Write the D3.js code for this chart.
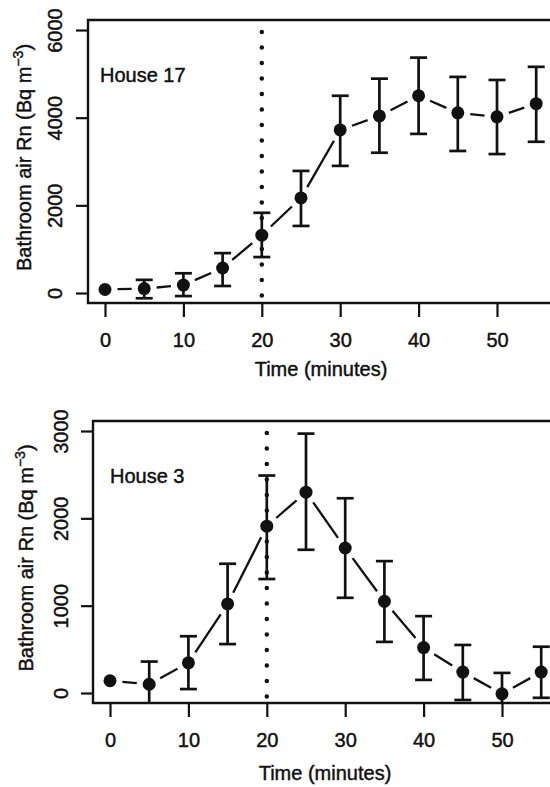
<!DOCTYPE html>
<html>
<head>
<meta charset="utf-8">
<script src="https://cdn.jsdelivr.net/npm/d3@7"></script>
<style>
  body { margin: 0; background: #fff; }
  svg text { font-family: "Liberation Sans", Arial, Helvetica, sans-serif; fill: #111; stroke: #111; stroke-width: 0.45px; }
</style>
</head>
<body>
<div id="chart"></div>
<script>
// data (Bq m-3), mean with lower/upper error bar ends
var times = [0, 5, 10, 15, 20, 25, 30, 35, 40, 45, 50, 55];
var house17Mean = [80, 100, 180, 570, 1320, 2170, 3720, 4040, 4500, 4110, 4020, 4320];
var house17Lo   = [80, -120, -70, 160, 820, 1530, 2900, 3200, 3630, 3240, 3170, 3450];
var house17Hi   = [80, 300, 450, 910, 1830, 2785, 4500, 4890, 5370, 4930, 4860, 5160];
var house3Mean  = [140, 100, 345, 1020, 1910, 2300, 1660, 1050, 520, 240, -10, 240];
var house3Lo    = [140, -130, 45, 560, 1305, 1640, 1090, 585, 150, -80, -250, -55];
var house3Hi    = [140, 360, 650, 1480, 2490, 2970, 2230, 1510, 880, 550, 230, 530];
var xTicks = [0, 10, 20, 30, 40, 50];
var yTicks17 = [0, 2000, 4000, 6000];
var yTicks3 = [0, 1000, 2000, 3000];
var showerEnd = 20;

var svg = d3.select('#chart').append('svg')
    .attr('width', 550).attr('height', 787);

function drawPanel(p) {
    var x = d3.scaleLinear().domain([0, 50]).range([p.x0, p.x50]);
    var y = d3.scaleLinear().domain([0, p.yMax]).range([p.y0, p.yTop]);
    var g = svg.append('g');

    // clip to the plot box
    g.append('clipPath').attr('id', p.id)
        .append('rect')
        .attr('x', p.left).attr('y', p.top)
        .attr('width', 700).attr('height', p.bottom - p.top);

    // x axis
    var xAxis = g.append('g')
        .attr('transform', 'translate(0,' + p.bottom + ')')
        .call(d3.axisBottom(x).tickValues(xTicks).tickFormat(d3.format('d')).tickSize(14).tickPadding(16));
    xAxis.select('.domain').remove();
    xAxis.selectAll('line').attr('stroke', '#111').attr('stroke-width', 2.2);
    xAxis.selectAll('text').attr('font-size', 20).attr('fill', '#111');

    // y axis, labels parallel to axis
    var yAxis = g.append('g')
        .attr('transform', 'translate(' + p.left + ',0)')
        .call(d3.axisLeft(y).tickValues(p.yTicks).tickFormat(d3.format('d')).tickSize(12));
    yAxis.select('.domain').remove();
    yAxis.selectAll('line').attr('stroke', '#111').attr('stroke-width', 2.2);
    yAxis.selectAll('text')
        .attr('x', null).attr('dy', null)
        .attr('font-size', 20).attr('fill', '#111')
        .attr('text-anchor', 'middle')
        .attr('transform', 'translate(' + (p.labX - p.left) + ',0) rotate(-90)');

    // box (right side runs off the page)
    g.append('path')
        .attr('d', 'M' + (p.left + 700) + ',' + p.top + 'H' + p.left + 'V' + p.bottom + 'H' + (p.left + 700))
        .attr('fill', 'none').attr('stroke', '#111').attr('stroke-width', 2.4);

    // axis titles
    g.append('text')
        .attr('x', p.xTitleX).attr('y', p.xTitleY)
        .attr('text-anchor', 'middle').attr('font-size', 20)
        .text('Time (minutes)');

    var yt = g.append('text')
        .attr('transform', 'translate(' + p.yTitleX + ',' + ((p.top + p.bottom) / 2 - 4) + ') rotate(-90)')
        .attr('text-anchor', 'middle').attr('font-size', 20);
    yt.append('tspan').text('Bathroom air Rn (Bq m');
    yt.append('tspan').attr('font-size', 14).attr('dy', -8).text('\u22123');
    yt.append('tspan').attr('dy', 8).text(')');

    // house label
    g.append('text')
        .attr('x', p.labelX).attr('y', p.labelY)
        .attr('font-size', 20)
        .text(p.label);

    var plot = g.append('g').attr('clip-path', 'url(#' + p.id + ')');

    // dotted vertical at end of shower
    plot.append('line')
        .attr('x1', x(showerEnd)).attr('x2', x(showerEnd))
        .attr('y1', p.top + 12).attr('y2', p.bottom)
        .attr('stroke', '#111').attr('stroke-width', 4.5)
        .attr('stroke-linecap', 'round')
        .attr('stroke-dasharray', '0,15.5');

    var pts = times.map(function(t, i) {
        return {t: t, m: p.mean[i], lo: p.lo[i], hi: p.hi[i]};
    });

    // connecting segments with gaps round the points
    var gap = 12.5;
    var segs = [];
    for (var i = 0; i < pts.length - 1; i++) {
        var ax = x(pts[i].t), ay = y(pts[i].m);
        var bx = x(pts[i + 1].t), by = y(pts[i + 1].m);
        var len = Math.hypot(bx - ax, by - ay);
        if (len <= gap * 2) continue;
        var ux = (bx - ax) / len, uy = (by - ay) / len;
        segs.push([ax + ux * gap, ay + uy * gap, bx - ux * gap, by - uy * gap]);
    }
    plot.selectAll('.seg').data(segs).enter().append('line')
        .attr('class', 'seg')
        .attr('x1', function(d) { return d[0]; }).attr('y1', function(d) { return d[1]; })
        .attr('x2', function(d) { return d[2]; }).attr('y2', function(d) { return d[3]; })
        .attr('stroke', '#111').attr('stroke-width', 2.3);

    // error bars
    var bars = pts.filter(function(d) { return d.hi > d.lo; });
    var eb = plot.selectAll('.eb').data(bars).enter().append('g').attr('class', 'eb')
        .attr('stroke', '#111').attr('stroke-width', 2.7);
    eb.append('line')
        .attr('x1', function(d) { return x(d.t); }).attr('x2', function(d) { return x(d.t); })
        .attr('y1', function(d) { return y(d.lo); }).attr('y2', function(d) { return y(d.hi); });
    eb.append('line')
        .attr('x1', function(d) { return x(d.t) - 8.5; }).attr('x2', function(d) { return x(d.t) + 8.5; })
        .attr('y1', function(d) { return y(d.hi); }).attr('y2', function(d) { return y(d.hi); });
    eb.append('line')
        .attr('x1', function(d) { return x(d.t) - 8.5; }).attr('x2', function(d) { return x(d.t) + 8.5; })
        .attr('y1', function(d) { return y(d.lo); }).attr('y2', function(d) { return y(d.lo); });

    // points
    plot.selectAll('.pt').data(pts).enter().append('circle')
        .attr('class', 'pt')
        .attr('cx', function(d) { return x(d.t); })
        .attr('cy', function(d) { return y(d.m); })
        .attr('r', 6.5).attr('fill', '#111');
}

drawPanel({
    id: 'clip17', label: 'House 17',
    mean: house17Mean, lo: house17Lo, hi: house17Hi,
    yMax: 6000, yTicks: yTicks17,
    left: 88, top: 20, bottom: 303,
    x0: 105, x50: 497, y0: 293, yTop: 30,
    labX: 62, yTitleX: 31,
    xTitleX: 321, xTitleY: 376,
    labelX: 100, labelY: 82
});

drawPanel({
    id: 'clip3', label: 'House 3',
    mean: house3Mean, lo: house3Lo, hi: house3Hi,
    yMax: 3000, yTicks: yTicks3,
    left: 93, top: 421, bottom: 703,
    x0: 110, x50: 502, y0: 693, yTop: 431,
    labX: 68, yTitleX: 33,
    xTitleX: 325, xTitleY: 780,
    labelX: 110, labelY: 483
});
</script>
</body>
</html>
